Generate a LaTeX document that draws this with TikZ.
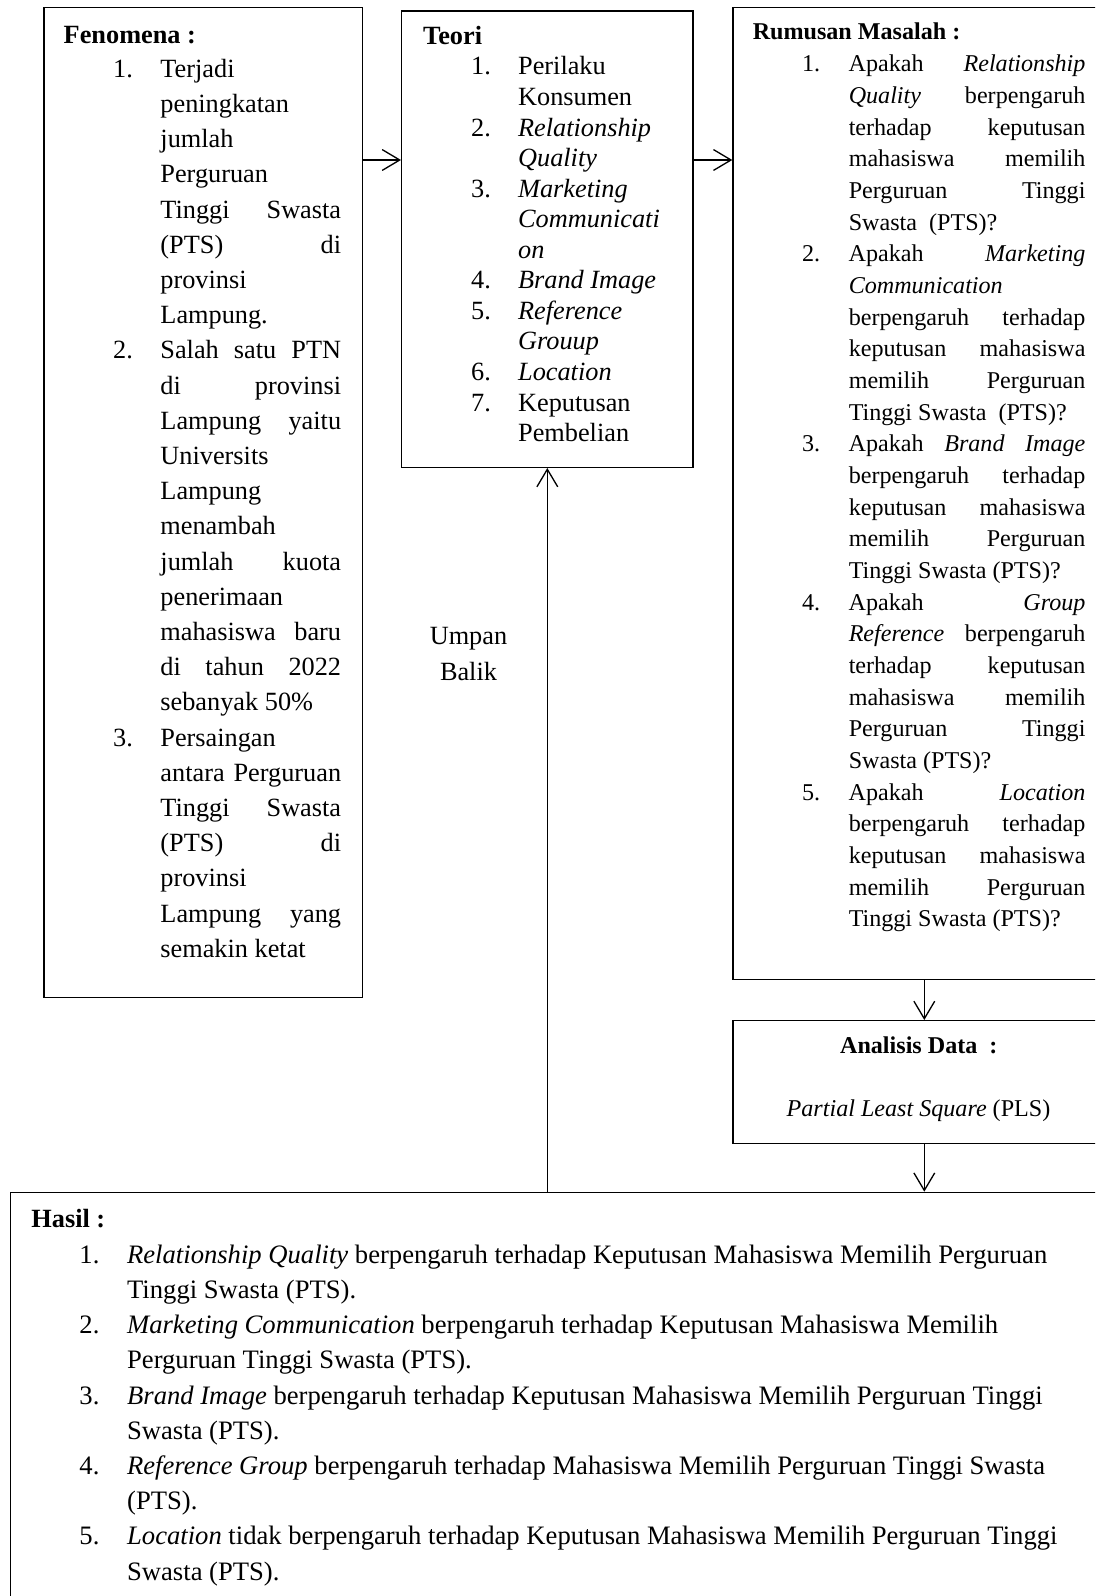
\documentclass[tikz,border=0pt]{standalone}
\usepackage{fontspec}
\setmainfont{Liberation Serif}
\usetikzlibrary{arrows.meta}
\newdimen\pu \pu=0.4563pt
\newdimen\ind \newdimen\tw
\newcommand\Lr[2]{\hbox{\makebox[\ind][l]{#1}#2}}
\newcommand\Lj[2]{\hbox{\makebox[\ind][l]{#1}\makebox[\tw][s]{#2}}}
\begin{document}
\begin{tikzpicture}[x=\pu,y=-\pu,
  box/.style={draw, line width=0.6pt, rectangle, inner sep=0pt, anchor=north west},
  txt/.style={inner sep=0pt, anchor=base west},
  ctxt/.style={inner sep=0pt, anchor=base},
  arr/.style={-{Straight Barb[length=8pt,width=9.5pt]}, line width=0.6pt},
  font=\fontsize{12}{16.06}\selectfont]
\useasboundingbox (0,0) rectangle (1095,1596);
\fill[white] (0,0) rectangle (1095,1596);
\clip (0,0) rectangle (1095,1596);

% boxes
\node[box, minimum width=318.4*\pu, minimum height=990*\pu] (fen) at (43.3,7) {};
\node[box, minimum width=291.3*\pu, minimum height=456.4*\pu] (teo) at (401,10.3) {};
\node[box, minimum width=377.7*\pu, minimum height=972.3*\pu] (rum) at (732.3,6.7) {};
\node[box, minimum width=377.7*\pu, minimum height=122.7*\pu] (ana) at (732.3,1020) {};
\node[box, minimum width=1100*\pu, minimum height=420*\pu] (has) at (10,1191.7) {};

% connectors
\coordinate (ya) at (0,160);
\coordinate (xa) at (924.3,0);
\draw[arr] (fen.east |- ya) -- (teo.west |- ya);
\draw[arr] (teo.east |- ya) -- (rum.west |- ya);
\draw[arr] (rum.south -| xa) -- (ana.north -| xa);
\draw[arr] (ana.south -| xa) -- (has.north -| xa);
\draw[arr] (has.north -| teo.south) -- (teo.south);

% Fenomena
\node[txt] (fent) at (63.3,43.3) {\bfseries Fenomena :};
\node[txt] (fenl) at (112.7,77.3) {\vtop{\fontsize{12}{16.06}\selectfont\lineskiplimit=-100pt
  \ind=47.3\pu \tw=180.7\pu
  \Lr{1.}{Terjadi}
  \Lr{}{peningkatan}
  \Lr{}{jumlah}
  \Lr{}{Perguruan}
  \Lj{}{Tinggi Swasta}
  \Lj{}{(PTS) di}
  \Lr{}{provinsi}
  \Lr{}{Lampung.}
  \Lj{2.}{Salah satu PTN}
  \Lj{}{di provinsi}
  \Lj{}{Lampung yaitu}
  \Lr{}{Universits}
  \Lr{}{Lampung}
  \Lr{}{menambah}
  \Lj{}{jumlah kuota}
  \Lr{}{penerimaan}
  \Lj{}{mahasiswa baru}
  \Lj{}{di tahun 2022}
  \Lr{}{sebanyak 50\%}
  \Lr{3.}{Persaingan}
  \Lj{}{antara Perguruan}
  \Lj{}{Tinggi Swasta}
  \Lj{}{(PTS) di}
  \Lr{}{provinsi}
  \Lj{}{Lampung yang}
  \Lr{}{semakin ketat}}};

% Teori
\node[txt] (teot) at (422.7,45) {\bfseries Teori};
\node[txt] (teol) at (470.7,75) {\vtop{\fontsize{12}{13.94}\selectfont\lineskiplimit=-100pt
  \ind=47\pu
  \Lr{1.}{Perilaku}
  \Lr{}{Konsumen}
  \Lr{2.}{\textit{Relationship}}
  \Lr{}{\textit{Quality}}
  \Lr{3.}{\textit{Marketing}}
  \Lr{}{\textit{Communicati}}
  \Lr{}{\textit{on}}
  \Lr{4.}{\textit{Brand Image}}
  \Lr{5.}{\textit{Reference}}
  \Lr{}{\textit{Grouup}}
  \Lr{6.}{\textit{Location}}
  \Lr{7.}{Keputusan}
  \Lr{}{Pembelian}}};

% Rumusan Masalah
\node[txt] (rumt) at (752.3,40) {\fontsize{11}{14.45}\selectfont\bfseries Rumusan Masalah :};
\node[txt] (ruml) at (801.7,71.7) {\vtop{\fontsize{11}{14.45}\selectfont\lineskiplimit=-100pt
  \ind=46.6\pu \tw=236.7\pu
  \Lj{1.}{Apakah \textit{Relationship}}
  \Lj{}{\textit{Quality} berpengaruh}
  \Lj{}{terhadap keputusan}
  \Lj{}{mahasiswa memilih}
  \Lj{}{Perguruan Tinggi}
  \Lr{}{Swasta~ (PTS)?}
  \Lj{2.}{Apakah \textit{Marketing}}
  \Lr{}{\textit{Communication}}
  \Lj{}{berpengaruh terhadap}
  \Lj{}{keputusan mahasiswa}
  \Lj{}{memilih Perguruan}
  \Lr{}{Tinggi Swasta~ (PTS)?}
  \Lj{3.}{Apakah \textit{Brand Image}}
  \Lj{}{berpengaruh terhadap}
  \Lj{}{keputusan mahasiswa}
  \Lj{}{memilih Perguruan}
  \Lr{}{Tinggi Swasta (PTS)?}
  \Lj{4.}{Apakah \textit{Group}}
  \Lj{}{\textit{Reference} berpengaruh}
  \Lj{}{terhadap keputusan}
  \Lj{}{mahasiswa memilih}
  \Lj{}{Perguruan Tinggi}
  \Lr{}{Swasta (PTS)?}
  \Lj{5.}{Apakah \textit{Location}}
  \Lj{}{berpengaruh terhadap}
  \Lj{}{keputusan mahasiswa}
  \Lj{}{memilih Perguruan}
  \Lr{}{Tinggi Swasta (PTS)?}}};

% Analisis Data
\node[ctxt] (anat) at (918.8,1053.3) {\fontsize{11}{14}\selectfont\bfseries Analisis Data~ :};
\node[ctxt] (anap) at (918.5,1116.7) {\fontsize{11}{14}\selectfont\textit{Partial Least Square} (PLS)};

% Umpan Balik
\node[ctxt] (ub) at (468.5,644) {\vtop{\fontsize{12}{16.75}\selectfont\lineskiplimit=-100pt
  \hbox to 0pt{\hss Umpan\hss}\hbox to 0pt{\hss Balik\hss}}};

% Hasil
\node[txt] (hast) at (31,1227.7) {\bfseries Hasil :};
\node[txt] (hasl) at (79,1263.3) {\vtop{\fontsize{12.15}{16.06}\selectfont\lineskiplimit=-100pt
  \ind=47.7\pu
  \Lr{1.}{\textit{Relationship Quality} berpengaruh terhadap Keputusan Mahasiswa Memilih Perguruan}
  \Lr{}{Tinggi Swasta (PTS).}
  \Lr{2.}{\textit{Marketing Communication} berpengaruh terhadap Keputusan Mahasiswa Memilih}
  \Lr{}{Perguruan Tinggi Swasta (PTS).}
  \Lr{3.}{\textit{Brand Image} berpengaruh terhadap Keputusan Mahasiswa Memilih Perguruan Tinggi}
  \Lr{}{Swasta (PTS).}
  \Lr{4.}{\textit{Reference Group} berpengaruh terhadap Mahasiswa Memilih Perguruan Tinggi Swasta}
  \Lr{}{(PTS).}
  \Lr{5.}{\textit{Location} tidak berpengaruh terhadap Keputusan Mahasiswa Memilih Perguruan Tinggi}
  \Lr{}{Swasta (PTS).}}};
\end{tikzpicture}
\end{document}
